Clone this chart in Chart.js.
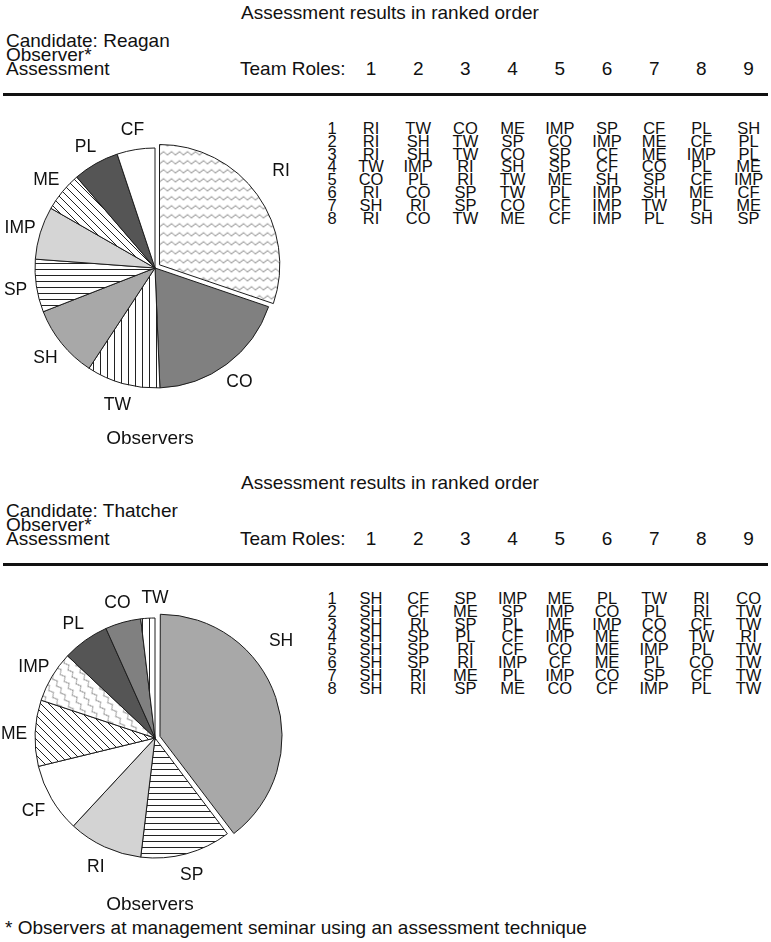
<!DOCTYPE html>
<html>
<head>
<meta charset="utf-8">
<title>Team role assessments</title>
<script src="https://cdn.jsdelivr.net/npm/chart.js@4.4.1/dist/chart.umd.min.js"></script>
<style>
  html, body { margin: 0; padding: 0; background: #fff; }
  body {
    width: 771px; height: 942px; position: relative; overflow: hidden;
    font-family: "Liberation Sans", Arial, Helvetica, sans-serif; color: #111;
  }
  .t { position: absolute; white-space: nowrap; line-height: 1; }
  .rule { position: absolute; left: 3px; width: 765px; height: 3px; background: #111; }
  canvas { position: absolute; }
</style>
</head>
<body>
<script>
// ---- data ----------------------------------------------------------------
const teamRoleNumbers = ['1', '2', '3', '4', '5', '6', '7', '8', '9'];
const observerNumbers = ['1', '2', '3', '4', '5', '6', '7', '8'];

const reaganRoles  = ['RI', 'CO', 'TW', 'SH', 'SP', 'IMP', 'ME', 'PL', 'CF'];
const reaganShares = [30.2, 19.1, 9.9, 9.8, 7.1, 7.1, 5.4, 6.2, 5.1];
const reaganRanks = [
  ['RI', 'TW', 'CO', 'ME', 'IMP', 'SP', 'CF', 'PL', 'SH'],
  ['RI', 'SH', 'TW', 'SP', 'CO', 'IMP', 'ME', 'CF', 'PL'],
  ['RI', 'SH', 'TW', 'CO', 'SP', 'CF', 'ME', 'IMP', 'PL'],
  ['TW', 'IMP', 'RI', 'SH', 'SP', 'CF', 'CO', 'PL', 'ME'],
  ['CO', 'PL', 'RI', 'TW', 'ME', 'SH', 'SP', 'CF', 'IMP'],
  ['RI', 'CO', 'SP', 'TW', 'PL', 'IMP', 'SH', 'ME', 'CF'],
  ['SH', 'RI', 'SP', 'CO', 'CF', 'IMP', 'TW', 'PL', 'ME'],
  ['RI', 'CO', 'TW', 'ME', 'CF', 'IMP', 'PL', 'SH', 'SP']
];

const thatcherRoles  = ['SH', 'SP', 'RI', 'CF', 'ME', 'IMP', 'PL', 'CO', 'TW'];
const thatcherShares = [39.7, 12.2, 10.0, 9.3, 8.9, 6.9, 6.3, 4.8, 1.9];
const thatcherRanks = [
  ['SH', 'CF', 'SP', 'IMP', 'ME', 'PL', 'TW', 'RI', 'CO'],
  ['SH', 'CF', 'ME', 'SP', 'IMP', 'CO', 'PL', 'RI', 'TW'],
  ['SH', 'RI', 'SP', 'PL', 'ME', 'IMP', 'CO', 'CF', 'TW'],
  ['SH', 'SP', 'PL', 'CF', 'IMP', 'ME', 'CO', 'TW', 'RI'],
  ['SH', 'SP', 'RI', 'CF', 'CO', 'ME', 'IMP', 'PL', 'TW'],
  ['SH', 'SP', 'RI', 'IMP', 'CF', 'ME', 'PL', 'CO', 'TW'],
  ['SH', 'RI', 'ME', 'PL', 'IMP', 'CO', 'SP', 'CF', 'TW'],
  ['SH', 'RI', 'SP', 'ME', 'CO', 'CF', 'IMP', 'PL', 'TW']
];

// ---- fill patterns -------------------------------------------------------
function tile(w, h, draw) {
  const c = document.createElement('canvas');
  c.width = w; c.height = h;
  const g = c.getContext('2d');
  g.fillStyle = '#fff';
  g.fillRect(0, 0, w, h);
  draw(g, w, h);
  return document.createElement('canvas').getContext('2d').createPattern(c, 'repeat');
}
function wavy(angleDeg) {
  const p = tile(8, 9, (g, w, h) => {
    g.strokeStyle = '#444'; g.lineWidth = 0.8; g.beginPath();
    for (let x = 0; x <= w; x += 0.5) {
      const y = h / 2 + 1.4 * Math.sin(2 * Math.PI * x / w);
      x === 0 ? g.moveTo(x, y) : g.lineTo(x, y);
    }
    g.stroke();
  });
  if (angleDeg) p.setTransform(new DOMMatrix().rotateSelf(angleDeg));
  return p;
}
const verticalLines = () => tile(7, 7, (g) => { g.fillStyle = '#222'; g.fillRect(3, 0, 1, 7); });
const horizontalLines = () => tile(6, 6, (g) => { g.fillStyle = '#222'; g.fillRect(0, 3, 6, 1); });
const diagonalLines = () => tile(8, 8, (g, s) => {
  g.strokeStyle = '#222'; g.lineWidth = 1; g.beginPath();
  g.moveTo(0, 0); g.lineTo(s, s);
  g.moveTo(-1, s - 1); g.lineTo(1, s + 1);
  g.moveTo(s - 1, -1); g.lineTo(s + 1, 1);
  g.stroke();
});

const reaganFills = [wavy(0), '#808080', verticalLines(), '#a8a8a8', horizontalLines(),
                     '#d5d5d5', diagonalLines(), '#555555', '#ffffff'];
const thatcherFills = ['#a8a8a8', horizontalLines(), '#d3d3d3', '#ffffff', diagonalLines(),
                       wavy(60), '#555555', '#808080', verticalLines()];

// ---- text helpers --------------------------------------------------------
const FONT = 19;
const CELL_FONT = 16.5;
function put(text, x, cy, size, align) {
  const d = document.createElement('div');
  d.className = 't';
  d.textContent = text;
  d.style.fontSize = size + 'px';
  d.style.top = (cy - size / 2) + 'px';
  d.style.left = x + 'px';
  if (align === 'center') d.style.transform = 'translateX(-50%)';
  document.body.appendChild(d);
}

// labels drawn round each pie at the slice's mid angle
const sliceLabels = {
  id: 'sliceLabels',
  afterDatasetsDraw(chart, args, opts) {
    const ctx = chart.ctx;
    const arcs = chart.getDatasetMeta(0).data;
    ctx.save();
    ctx.font = opts.size + 'px "Liberation Sans", Arial, sans-serif';
    ctx.fillStyle = '#111';
    ctx.textAlign = 'center';
    ctx.textBaseline = 'alphabetic';
    arcs.forEach((arc, i) => {
      let ang = (arc.startAngle + arc.endAngle) / 2;
      let dist = opts.distance;
      const o = opts.overrides[i];
      if (o) { ang = (o.angle - 90) * Math.PI / 180; dist = o.distance; }
      const x = arc.x + Math.cos(ang) * dist;
      const y = arc.y + Math.sin(ang) * dist;
      ctx.fillText(chart.data.labels[i], x, y + 0.36 * opts.size);
    });
    ctx.restore();
  }
};

function drawPie(roles, shares, fills, explode, cx, cy, labelOverrides) {
  const size = 340;
  const cv = document.createElement('canvas');
  cv.width = size; cv.height = size;
  cv.style.left = (cx - size / 2) + 'px';
  cv.style.top = (cy - size / 2) + 'px';
  document.body.appendChild(cv);
  new Chart(cv, {
    type: 'pie',
    data: {
      labels: roles,
      datasets: [{
        data: shares,
        backgroundColor: fills,
        borderColor: '#1c1c1c',
        borderWidth: 1,
        offset: shares.map((v, i) => (i === 0 ? explode : 0))
      }]
    },
    options: {
      responsive: false,
      animation: false,
      events: [],
      radius: 120,
      layout: { padding: 0 },
      plugins: {
        legend: { display: false },
        tooltip: { enabled: false },
        sliceLabels: { size: 17.5, distance: 141, overrides: labelOverrides }
      }
    },
    plugins: [sliceLabels]
  });
}

function section(y0, candidate, ranks, roles, shares, fills, explode, observersY, labelOverrides) {
  put('Assessment results in ranked order', 390, y0 + 12, FONT, 'center');
  put('Candidate: ' + candidate, 6, y0 + 40, FONT);
  put('Observer*', 6, y0 + 54, FONT);
  put('Assessment', 6, y0 + 68, FONT);
  put('Team Roles:', 240, y0 + 68, FONT);
  const colX = teamRoleNumbers.map((_, i) => 371 + 47.2 * i);
  teamRoleNumbers.forEach((n, i) => put(n, colX[i], y0 + 68, FONT, 'center'));

  const rule = document.createElement('div');
  rule.className = 'rule';
  rule.style.top = (y0 + 93) + 'px';
  document.body.appendChild(rule);

  observerNumbers.forEach((n, r) => {
    const cy = y0 + 128 + 12.9 * r;
    put(n, 332, cy, CELL_FONT, 'center');
    ranks[r].forEach((role, c) => put(role, colX[c], cy, CELL_FONT, 'center'));
  });

  drawPie(roles, shares, fills, explode, 155, y0 + 268, labelOverrides);
  put('Observers', 150, observersY, FONT, 'center');
}

section(0, 'Reagan', reaganRanks, reaganRoles, reaganShares, reaganFills, 22, 437,
        { 0: { angle: 52, distance: 160 } });
section(470, 'Thatcher', thatcherRanks, thatcherRoles, thatcherShares, thatcherFills, 21, 903,
        { 0: { angle: 52, distance: 160 }, 8: { angle: 0, distance: 141 } });
put('* Observers at management seminar using an assessment technique', 5, 927, FONT);
</script>
</body>
</html>
